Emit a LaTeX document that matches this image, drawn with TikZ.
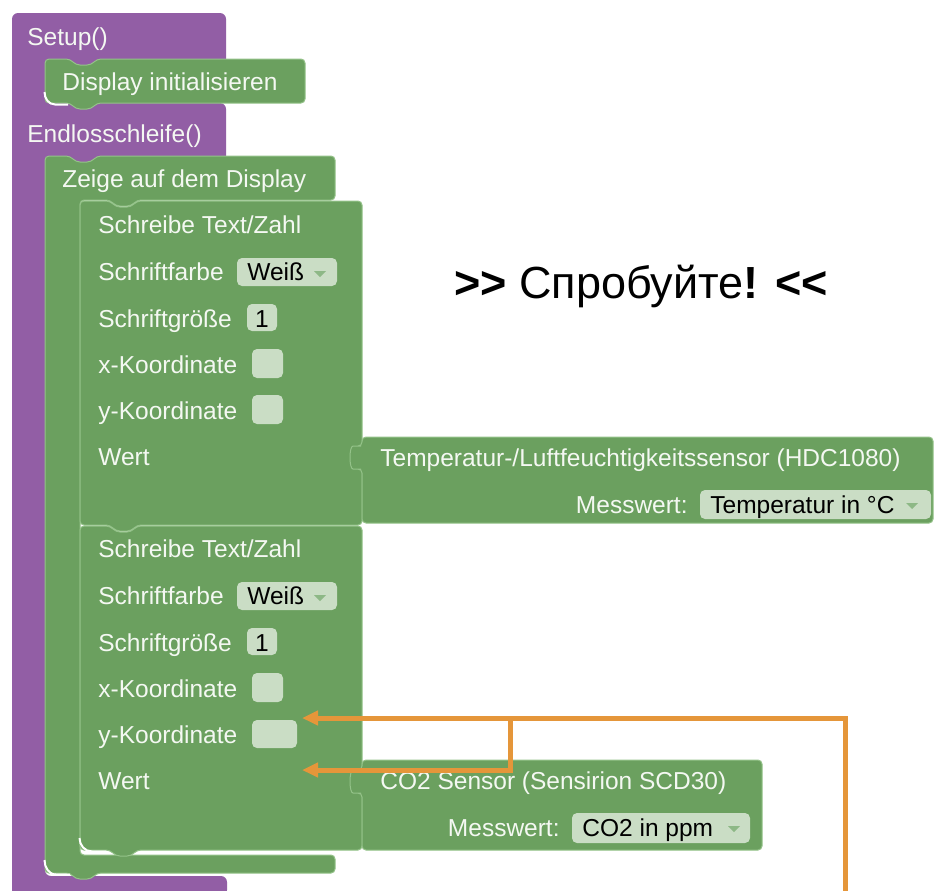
\documentclass[tikz,border=0pt]{standalone}
\usepackage{fontspec}
\setmainfont{Liberation Sans}
\usetikzlibrary{arrows.meta}
\definecolor{blgreen}{HTML}{6BA05F}
\definecolor{bledge}{HTML}{94C289}
\definecolor{purp}{HTML}{925EA5}
\definecolor{fieldbg}{HTML}{CADDC5}
\definecolor{ddarrow}{HTML}{8DB886}
\definecolor{txtw}{HTML}{F4F8F2}
\definecolor{orng}{HTML}{E5963A}
\newcommand{\blkfont}{\fontsize{12.25}{14}\selectfont}
\newcommand{\bigtitlefont}{\fontsize{22.5}{27}\selectfont}
\tikzset{
  blk/.style={fill=blgreen, draw=bledge, line width=0.5pt, rounded corners=2pt},
  lbl/.style={text=txtw, font=\blkfont, inner sep=0pt, anchor=base west},
  fldtxt/.style={text=black, font=\blkfont, inner sep=0pt, anchor=base west},
  fld/.style={fill=fieldbg, rounded corners=2.5pt},
  ddarr/.style={fill=ddarrow},
  hl/.style={draw=white, line width=1pt},
  conn/.style={draw=orng, line width=2.5pt, -{Triangle[length=8pt,width=7pt]}},
}
\begin{document}
\begin{tikzpicture}[x=0.5pt,y=-0.5pt]
\fill[white] (0,0) rectangle (935,890);
\useasboundingbox (0,0) rectangle (935,890);

% purple setup / loop block
\fill[purp, rounded corners=3pt] (12,13) -- (226,13) -- (226,66) -- (45,66) -- (45,103) -- (226,103) -- (226,164) -- (45,164) -- (45,876) -- (227,876) -- (227,896) -- (12,896) -- cycle;

% Display initialisieren
\draw[blk] (45,59) -- (70,59) -- (76,65) -- (91,65) -- (97,59) -- (305,59) -- (305,103) -- (97,103) -- (91,109) -- (76,109) -- (70,103) -- (45,103) -- cycle;

% Zeige auf dem Display (C block)
\draw[blk] (45,156) -- (70,156) -- (76,162) -- (91,162) -- (97,156) -- (335,156) -- (335,200) -- (137,200) -- (131,206) -- (116,206) -- (110,200) -- (80,200) -- (80,855) -- (335,855) -- (335,873) -- (97,873) -- (91,879) -- (76,879) -- (70,873) -- (45,873) -- cycle;

% Schreibe Text/Zahl 1
\draw[blk] (80,201) -- (110,201) -- (116,207) -- (131,207) -- (137,201) -- (362,201) -- (362,525) -- (137,525) -- (131,531) -- (116,531) -- (110,525) -- (80,525) -- cycle;

% Schreibe Text/Zahl 2
\draw[blk] (80,526) -- (110,526) -- (116,532) -- (131,532) -- (137,526) -- (362,526) -- (362,850) -- (137,850) -- (131,856) -- (116,856) -- (110,850) -- (80,850) -- cycle;

% sensor blocks
\draw[blk] (362,437) -- (933,437) -- (933,523) -- (362,523) -- (362,469) -- (357,469) .. controls (349,469) and (349,446) .. (357,446) -- (362,446) -- cycle;
\draw[blk] (362,760) -- (762,760) -- (762,850) -- (362,850) -- (362,793) -- (357,793) .. controls (349,793) and (349,770) .. (357,770) -- (362,770) -- cycle;

% highlights
\draw[hl] (44.5,92) to[out=-90,in=180] (55,104.5) -- (68,104.5);
\draw[hl] (79.5,838) to[out=-90,in=180] (92,851.5) -- (106,851.5);
\draw[hl] (44.5,860) to[out=-90,in=180] (56,874.5) -- (70,874.5);

% header labels
\node[lbl] (setup) at (27,45) {Setup()};
\node[lbl] (disp) at (62,90) {Display initialisieren};
\node[lbl] (loop) at (27,142) {Endlosschleife()};
\node[lbl] (zeige) at (62,187) {Zeige auf dem Display};

% block 1 fields
\fill[fld] (237,258) rectangle (337,286);
\fill[fld] (247,304) rectangle (277,331);
\fill[fld] (252,349) rectangle (283,378);
\fill[fld] (252,395) rectangle (283,424);
\fill[ddarr] (314,271) -- (326,271) -- (320,277) -- cycle;
% block 1 labels
\node[lbl] (s1a) at (98,233) {Schreibe Text/Zahl};
\node[lbl] (s1b) at (98,280) {Schriftfarbe};
\node[fldtxt] (s1c) at (247,280) {Weiß};
\node[lbl] (s1d) at (98,327) {Schriftgröße};
\node[fldtxt, anchor=base] (s1e) at (262,327) {1};
\node[lbl] (s1f) at (98,373) {x-Koordinate};
\node[lbl] (s1g) at (98,419) {y-Koordinate};
\node[lbl] (s1h) at (98,465) {Wert};

% block 2 fields
\fill[fld] (237,582) rectangle (337,610);
\fill[fld] (247,628) rectangle (277,655);
\fill[fld] (252,673) rectangle (283,702);
\fill[fld] (252,720) rectangle (297,748);
\fill[ddarr] (314,595) -- (326,595) -- (320,601) -- cycle;
% block 2 labels
\node[lbl] (s2a) at (98,557) {Schreibe Text/Zahl};
\node[lbl] (s2b) at (98,604) {Schriftfarbe};
\node[fldtxt] (s2c) at (247,604) {Weiß};
\node[lbl] (s2d) at (98,651) {Schriftgröße};
\node[fldtxt, anchor=base] (s2e) at (262,651) {1};
\node[lbl] (s2f) at (98,697) {x-Koordinate};
\node[lbl] (s2g) at (98,743) {y-Koordinate};
\node[lbl] (s2h) at (98,789) {Wert};

% sensor 1
\node[lbl] (t1) at (380,466) {Temperatur-/Luftfeuchtigkeitssensor (HDC1080)};
\node[lbl, anchor=base east] (t1m) at (688,513) {Messwert:};
\fill[fld] (700,490) rectangle (931,519);
\node[fldtxt] (t1v) at (710,513) {Temperatur in °C};
\fill[ddarr] (906,503) -- (918,503) -- (912,509) -- cycle;

% sensor 2
\node[lbl] (t2) at (380,789) {CO2 Sensor (Sensirion SCD30)};
\node[lbl, anchor=base east] (t2m) at (560,836) {Messwert:};
\fill[fld] (572,813) rectangle (750,843);
\node[fldtxt] (t2v) at (582,836) {CO2 in ppm};
\fill[ddarr] (728,826) -- (740,826) -- (734,832) -- cycle;

% title
\node[font=\bigtitlefont, anchor=base, inner sep=0pt] (title) at (641,298) {\textbf{>\kern0pt>} Спробуйте\textbf{!} \textbf{<\kern0pt<}};

% orange connectors
\coordinate (src) at (845,893);
\coordinate (junc) at (510,718);
\coordinate (ytip) at (302,718);
\coordinate (wtip) at (302,770);
\draw[conn] (src) |- (ytip);
\draw[conn] (junc) |- (wtip);
\end{tikzpicture}
\end{document}
